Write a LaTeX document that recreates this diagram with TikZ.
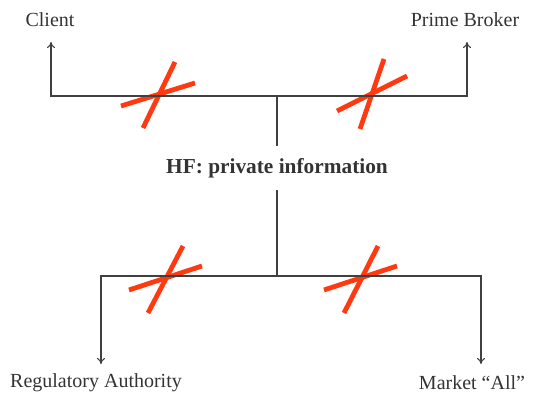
\documentclass[tikz,border=0pt]{standalone}
\usepackage{fontspec}
\setmainfont{Liberation Serif}
\usetikzlibrary{arrows.meta}
\definecolor{crossred}{HTML}{FF3A10}
\definecolor{linegrey}{HTML}{404040}
\begin{document}
\begin{tikzpicture}[x=0.75pt, y=-0.75pt,
  every node/.style={font=\fontsize{15}{17}\selectfont, text=black!80},
  wire/.style={draw=linegrey, line width=0.8pt},
  tip/.style={-{To[length=4.5pt, width=6pt]}},
  nope/.style={draw=crossred, line width=3.6pt}]
	\useasboundingbox (0,0) rectangle (534,396);
	% crossed out channels
	\draw [nope] (121,106) -- (195,83);
	\draw [nope] (143,128) -- (175,62);
	\draw [nope] (337,111) -- (407,76);
	\draw [nope] (360,129) -- (384,59);
	\draw [nope] (129,290) -- (202,266);
	\draw [nope] (148,313) -- (183,246);
	\draw [nope] (324,290) -- (397,266);
	\draw [nope] (344,313) -- (378,246);
	% labels
	\node (client) at (50,20) {Client};
	\node (broker) at (465,20) {Prime Broker};
	\node [font=\fontsize{16}{18}\selectfont\bfseries, inner sep=9pt] (hf) at (277,168) {HF: private information};
	\node (reg) at (96,383) {Regulatory Authority};
	\node (market) at (472,383) {Market ``All''};
	% branching points
	\coordinate (top) at (277,96);
	\coordinate (bottom) at (277,276);
	\coordinate (clientend) at (51,42);
	\coordinate (brokerend) at (467,42);
	\coordinate (regend) at (101,364);
	\coordinate (marketend) at (481,364);
	\draw [wire] (hf) -- (top);
	\draw [wire] (hf) -- (bottom);
	\draw [wire, tip] (top) -| (clientend);
	\draw [wire, tip] (top) -| (brokerend);
	\draw [wire, tip] (bottom) -| (regend);
	\draw [wire, tip] (bottom) -| (marketend);
\end{tikzpicture}
\end{document}
